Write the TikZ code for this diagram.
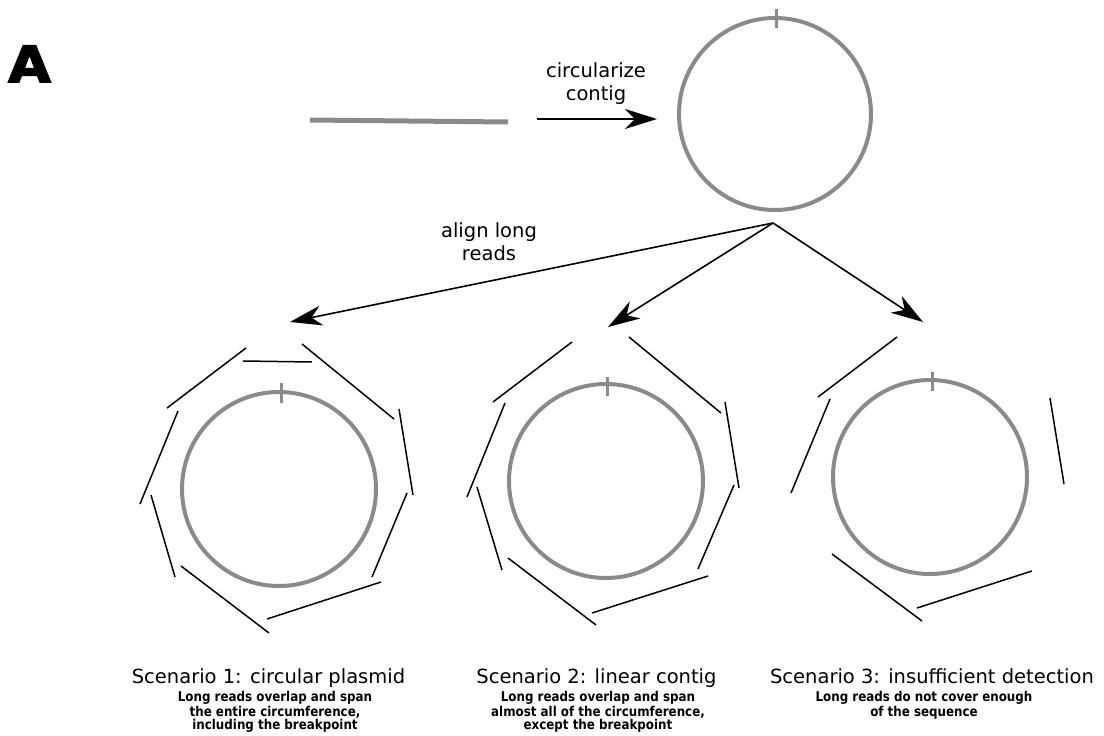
\documentclass[tikz,border=0pt]{standalone}
\usepackage{fontspec}
\setmainfont{DejaVu Sans}
\newfontfamily\heavyfont{DejaVu Sans}[BoldFeatures={FakeBold=3,FakeStretch=1.1}]
\newfontfamily\descfont{DejaVu Sans}[BoldFeatures={FakeStretch=0.88}]
\usetikzlibrary{arrows.meta}
\definecolor{plasgray}{HTML}{8A8A8A}
\tikzset{
  plasmid/.style={draw=plasgray,line width=4pt},
  breaktick/.style={draw=plasgray,line width=3pt},
  contigline/.style={draw=plasgray,line width=5pt},
  readseg/.style={draw=black,line width=1.5pt},
  flow/.style={draw=black,line width=1.6pt,-{Stealth[length=32pt,width=20pt,inset=10pt]}},
  lbl/.style={font=\fontsize{19.5}{23}\selectfont,align=center,inner sep=0pt},
  scentitle/.style={font=\fontsize{19.5}{23}\selectfont,inner sep=0pt,anchor=base},
  desc/.style={font=\fontsize{13.5}{13}\descfont\bfseries,align=center,inner sep=0pt,anchor=base},
}
\begin{document}
\begin{tikzpicture}[x=1pt,y=-1pt]
\useasboundingbox (0,0) rectangle (1104,736);

% panel letter
\node[anchor=base west,inner sep=0pt,font=\fontsize{50}{50}\heavyfont\bfseries] (panel) at (8,82) {A};

% linear contig
\coordinate (la) at (310,120);
\coordinate (lb) at (508,122);
\draw[contigline] (la) -- (lb);

% circularize arrow
\coordinate (ca) at (537,119);
\coordinate (cb) at (657,119);
\draw[flow] (ca) -- (cb);
\node[lbl,anchor=base] (circlbl) at (596,100) {circularize\\contig};

% top circle
\coordinate (c0) at (775,114);
\draw[plasmid] (c0) circle[radius=96pt];
\draw[breaktick] (776,9) -- (776,28);

% align arrows
\coordinate (apex) at (773,223);
\coordinate (t1) at (290,322);
\coordinate (t2) at (608,327);
\coordinate (t3) at (923,322);
\draw[flow] (apex) -- (t1);
\draw[flow] (apex) -- (t2);
\draw[flow] (apex) -- (t3);
\node[lbl,anchor=base] (alignlbl) at (489,260) {align long\\reads};

% scenario 1
\coordinate (c1) at (279,489);
\draw[plasmid] (c1) circle[radius=97pt];
\draw[breaktick] (281,383) -- (281,403);
\draw[readseg] (243,361) -- (312,362);
\draw[readseg] (246,348) -- (167,408);
\draw[readseg] (302,344) -- (394,419);
\draw[readseg] (178,411) -- (140,504);
\draw[readseg] (399,409) -- (413,495);
\draw[readseg] (151,495) -- (175,577);
\draw[readseg] (407,493) -- (372,577);
\draw[readseg] (181,566) -- (269,633);
\draw[readseg] (267,619) -- (381,582);

% scenario 2
\coordinate (c2) at (606,481);
\draw[plasmid] (c2) circle[radius=97pt];
\draw[breaktick] (607,377) -- (607,396);
\draw[readseg] (572,342) -- (493,402);
\draw[readseg] (629,337) -- (721,413);
\draw[readseg] (505,403) -- (467,497);
\draw[readseg] (725,402) -- (739,488);
\draw[readseg] (477,487) -- (502,570);
\draw[readseg] (734,485) -- (698,569);
\draw[readseg] (508,558) -- (596,625);
\draw[readseg] (592,613) -- (708,576);

% scenario 3
\coordinate (c3) at (930,477);
\draw[plasmid] (c3) circle[radius=97pt];
\draw[breaktick] (932,372) -- (932,391);
\draw[readseg] (897,337) -- (818,397);
\draw[readseg] (830,399) -- (791,493);
\draw[readseg] (1050,398) -- (1064,484);
\draw[readseg] (832,554) -- (922,621);
\draw[readseg] (917,608) -- (1032,571);

% captions
\node[scentitle] (s1t) at (268.5,683) {Scenario 1: circular plasmid};
\node[desc] (s1d) at (275,729) {Long reads overlap and span\\the entire circumference,\\including the breakpoint};
\node[scentitle] (s2t) at (596.5,683) {Scenario 2: linear contig};
\node[desc] (s2d) at (598,729) {Long reads overlap and span\\almost all of the circumference,\\except the breakpoint};
\node[scentitle] (s3t) at (932,683) {Scenario 3: insufficient detection};
\node[desc] (s3d) at (924,716) {Long reads do not cover enough\\of the sequence};
\end{tikzpicture}
\end{document}
